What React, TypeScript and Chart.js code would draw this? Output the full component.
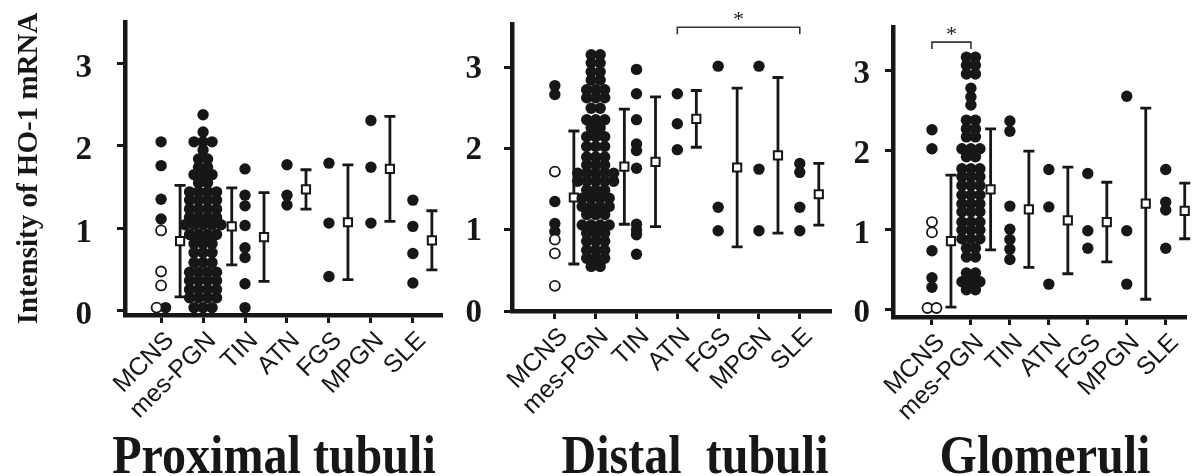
import React, { useEffect, useRef } from "react";
import { Chart, registerables } from "chart.js";

Chart.register(...registerables);

const INK = "#171717";
const SERIF = '"Liberation Serif", "DejaVu Serif", serif';
const SANS = '"Liberation Sans", Arial, sans-serif';

const categories = ["MCNS", "mes-PGN", "TIN", "ATN", "FGS", "MPGN", "SLE"];
const yTickValues = [0, 1, 2, 3];
const yAxisTitle = "Intensity of HO-1 mRNA";

// ---------- Proximal tubuli ----------
const proxMCNS = [2.05, 1.76, 1.35, 1.11, 0.03];
const proxMCNSOpen = [0.97, 0.47, 0.3, 0.03];
const proxMesPGN = [
  2.38, 2.17, 2.05, 2.05, 2.05, 1.95, 1.84, 1.84, 1.74, 1.74, 1.65, 1.65, 1.65,
  1.55, 1.55, 1.44, 1.44, 1.44, 1.44, 1.34, 1.34, 1.34, 1.34, 1.23, 1.23, 1.23,
  1.23, 1.13, 1.13, 1.13, 1.13, 1.04, 1.04, 1.04, 1.04, 1.04, 0.92, 0.92, 0.92,
  0.92, 0.81, 0.81, 0.81, 0.7, 0.7, 0.7, 0.58, 0.58, 0.58, 0.46, 0.46, 0.46,
  0.46, 0.36, 0.36, 0.36, 0.36, 0.25, 0.25, 0.25, 0.25, 0.15, 0.15, 0.15, 0.15,
  0.03, 0.03, 0.03,
];
const proxTIN = [1.72, 1.4, 1.27, 1.03, 0.76, 0.64, 0.32, 0.03];
const proxATN = [1.77, 1.4, 1.28];
const proxFGS = [1.79, 1.06, 0.41];
const proxMPGN = [2.31, 1.74, 1.06];
const proxSLE = [1.34, 1.02, 0.69, 0.33];
const proxMean = [0.84, 1.02, 0.89, 1.47, 1.07, 1.72, 0.85];
const proxSD = [0.68, 0.47, 0.54, 0.24, 0.7, 0.64, 0.36];

// ---------- Distal tubuli ----------
const distMCNS = [2.78, 2.67, 1.35, 1.08, 0.98];
const distMCNSOpen = [1.72, 0.88, 0.71, 0.31];
const distMesPGN = [
  3.16, 3.16, 3.06, 3.06, 2.95, 2.95, 2.85, 2.85, 2.73, 2.73, 2.73, 2.63, 2.63,
  2.63, 2.5, 2.5, 2.36, 2.36, 2.36, 2.26, 2.26, 2.15, 2.15, 2.15, 2.03, 2.03,
  2.03, 1.9, 1.9, 1.9, 1.8, 1.8, 1.8, 1.7, 1.7, 1.7, 1.7, 1.7, 1.6, 1.6, 1.6,
  1.6, 1.6, 1.49, 1.49, 1.49, 1.39, 1.39, 1.39, 1.39, 1.29, 1.29, 1.29, 1.29,
  1.19, 1.19, 1.19, 1.06, 1.06, 1.06, 1.06, 0.96, 0.96, 0.96, 0.86, 0.86, 0.86,
  0.75, 0.75, 0.75, 0.65, 0.65, 0.65, 0.55, 0.55,
];
const distTIN = [2.98, 2.68, 2.36, 2.06, 1.98, 1.76, 1.07, 1.0, 0.94, 0.7];
const distATN = [2.68, 2.31, 1.99];
const distFGS = [3.02, 1.28, 0.99];
const distMPGN = [3.02, 1.75, 0.99];
const distSLE = [1.82, 1.71, 1.28, 0.99];
const distMean = [1.4, 1.78, 1.84, 2.37, 1.77, 1.92, 1.44];
const distSD = [0.82, 0.71, 0.8, 0.35, 0.98, 0.96, 0.38];

// ---------- Glomeruli ----------
const glomMCNS = [2.26, 2.02, 0.74, 0.4, 0.28];
const glomMCNSOpen = [1.1, 0.97, 0.02, 0.02];
const glomMesPGN = [
  3.17, 3.17, 3.07, 3.07, 2.96, 2.96, 2.78, 2.67, 2.57, 2.38, 2.38, 2.27, 2.27,
  2.17, 2.17, 2.02, 2.02, 2.02, 1.92, 1.92, 1.77, 1.77, 1.77, 1.67, 1.67, 1.67,
  1.56, 1.56, 1.56, 1.44, 1.44, 1.44, 1.33, 1.33, 1.33, 1.23, 1.23, 1.23, 1.1,
  1.1, 1.1, 1.0, 1.0, 1.0, 0.89, 0.89, 0.89, 0.77, 0.77, 0.66, 0.66, 0.46, 0.46,
  0.35, 0.35, 0.35, 0.25, 0.25,
];
const glomTIN = [2.37, 2.24, 1.3, 1.01, 0.88, 0.76, 0.63];
const glomATN = [1.76, 1.29, 0.32];
const glomFGS = [1.71, 0.99, 0.77];
const glomMPGN = [2.68, 0.99, 0.32];
const glomSLE = [1.76, 1.35, 1.25, 0.77];
const glomMean = [0.86, 1.51, 1.26, 1.12, 1.1, 1.33, 1.24];
const glomSD = [0.83, 0.76, 0.73, 0.67, 0.5, 1.2, 0.35];

// significance brackets: [from category, to category, level]
const distSig = [[3, 6, 3.5]];
const glomSig = [[0, 1, 3.36]];

const DOT_R = 5.7;
const SPACING = 9;

type PanelCfg = {
  title: string;
  filled: number[][];
  open: number[][];
  mean: number[];
  sd: number[];
  sig: number[][];
  left: number;
  width: number;
  yAxisWidth: number;
  padTop: number;
  padRight: number;
  xAxisHeight: number;
  xMin: number;
  xMax: number;
  yMin: number;
  yMax: number;
  yTickPad: number;
  yLabelOffset: number;
  titleX: number;
  showYTitle: boolean;
};

const panels: PanelCfg[] = [
  {
    title: "Proximal tubuli",
    filled: [proxMCNS, proxMesPGN, proxTIN, proxATN, proxFGS, proxMPGN, proxSLE],
    open: [proxMCNSOpen, [], [], [], [], [], []],
    mean: proxMean,
    sd: proxSD,
    sig: [],
    left: 0,
    width: 455,
    yAxisWidth: 125,
    padTop: 22,
    padRight: 14,
    xAxisHeight: 161,
    xMin: -0.86,
    xMax: 6.67,
    yMin: -0.06,
    yMax: 3.51,
    yTickPad: 25,
    yLabelOffset: 5,
    titleX: 274,
    showYTitle: true,
  },
  {
    title: "Distal  tubuli",
    filled: [distMCNS, distMesPGN, distTIN, distATN, distFGS, distMPGN, distSLE],
    open: [distMCNSOpen, [], [], [], [], [], []],
    mean: distMean,
    sd: distSD,
    sig: distSig,
    left: 455,
    width: 385,
    yAxisWidth: 57,
    padTop: 24,
    padRight: 10,
    xAxisHeight: 165,
    xMin: -1.05,
    xMax: 6.74,
    yMin: 0,
    yMax: 3.54,
    yTickPad: 22,
    yLabelOffset: 2,
    titleX: 240,
    showYTitle: false,
  },
  {
    title: "Glomeruli",
    filled: [glomMCNS, glomMesPGN, glomTIN, glomATN, glomFGS, glomMPGN, glomSLE],
    open: [glomMCNSOpen, [], [], [], [], [], []],
    mean: glomMean,
    sd: glomSD,
    sig: glomSig,
    left: 840,
    width: 353,
    yAxisWidth: 53,
    padTop: 27,
    padRight: 0,
    xAxisHeight: 159,
    xMin: -1.0,
    xMax: 6.5,
    yMin: -0.093,
    yMax: 3.55,
    yTickPad: 15,
    yLabelOffset: 4,
    titleX: 205,
    showYTitle: false,
  },
];

const swarmPlugin = {
  id: "swarm",
  afterDatasetsUpdate(chart: any) {
    const groups = new Map<string, any[]>();
    const halfWidths = new Map<number, number>();
    chart.data.datasets.forEach((ds: any, di: number) => {
      if (!ds.swarm) return;
      const meta = chart.getDatasetMeta(di);
      meta.data.forEach((el: any, j: number) => {
        const p = ds.data[j];
        const key = p.x + "|" + p.y;
        if (!groups.has(key)) groups.set(key, []);
        groups.get(key)!.push(el);
      });
    });
    groups.forEach((els, key) => {
      const cat = Number(key.split("|")[0]);
      const n = els.length;
      els.forEach((el, k) => {
        el.x += (k - (n - 1) / 2) * SPACING;
      });
      const half = ((n - 1) / 2) * SPACING + DOT_R;
      halfWidths.set(cat, Math.max(halfWidths.get(cat) || 0, half));
    });
    chart.data.datasets.forEach((ds: any, di: number) => {
      if (!ds.errorbar) return;
      const meta = chart.getDatasetMeta(di);
      meta.data.forEach((el: any, j: number) => {
        const cat = ds.data[j].x;
        el.x += Math.max(19, (halfWidths.get(cat) || 0) + 5);
      });
    });
  },
  beforeDatasetDraw(chart: any, args: any) {
    const ds = chart.data.datasets[args.index];
    if (!ds.errorbar) return;
    const ys = chart.scales.y;
    const ctx = chart.ctx;
    ctx.save();
    ctx.strokeStyle = INK;
    ctx.lineWidth = 2.8;
    args.meta.data.forEach((el: any, j: number) => {
      const m = ds.data[j].y;
      const s = ds.sd[j];
      const top = ys.getPixelForValue(m + s);
      const bot = ys.getPixelForValue(m - s);
      ctx.beginPath();
      ctx.moveTo(el.x, top);
      ctx.lineTo(el.x, bot);
      ctx.moveTo(el.x - 5.5, top);
      ctx.lineTo(el.x + 5.5, top);
      ctx.moveTo(el.x - 5.5, bot);
      ctx.lineTo(el.x + 5.5, bot);
      ctx.stroke();
    });
    ctx.restore();
  },
  afterDraw(chart: any) {
    const cfg: PanelCfg = chart.options.plugins.swarm.cfg;
    const ctx = chart.ctx;
    const xs = chart.scales.x;
    const ys = chart.scales.y;
    ctx.save();
    // significance brackets
    ctx.strokeStyle = "#333";
    ctx.fillStyle = "#222";
    ctx.lineWidth = 1.6;
    cfg.sig.forEach(([a, b, level]) => {
      const x1 = xs.getPixelForValue(a);
      const x2 = xs.getPixelForValue(b);
      const y = ys.getPixelForValue(level);
      ctx.beginPath();
      ctx.moveTo(x1, y + 7);
      ctx.lineTo(x1, y);
      ctx.lineTo(x2, y);
      ctx.lineTo(x2, y + 7);
      ctx.stroke();
      ctx.font = `22px ${SERIF}`;
      ctx.textAlign = "center";
      ctx.textBaseline = "middle";
      ctx.fillText("*", (x1 + x2) / 2, y - 7);
    });
    // panel title (condensed bold serif)
    ctx.fillStyle = INK;
    ctx.font = `bold 54px ${SERIF}`;
    ctx.textAlign = "center";
    ctx.textBaseline = "alphabetic";
    ctx.translate(cfg.titleX, 473);
    ctx.scale(0.89, 1);
    ctx.fillText(cfg.title, 0, 0);
    ctx.restore();
  },
};

function Panel({ cfg }: { cfg: PanelCfg }) {
  const ref = useRef<HTMLCanvasElement | null>(null);
  useEffect(() => {
    if (!ref.current) return;
    const openPts = cfg.open.flatMap((vals, i) => vals.map((v) => ({ x: i, y: v })));
    const filledPts = cfg.filled.flatMap((vals, i) => vals.map((v) => ({ x: i, y: v })));
    const meanPts = cfg.mean.map((m, i) => ({ x: i, y: m }));
    const chart = new Chart(ref.current, {
      type: "scatter",
      data: {
        datasets: [
          {
            data: openPts,
            swarm: true,
            pointRadius: 5,
            pointBackgroundColor: "#ffffff",
            pointBorderColor: INK,
            pointBorderWidth: 1.8,
            clip: false,
          } as any,
          {
            data: filledPts,
            swarm: true,
            pointRadius: DOT_R,
            pointBackgroundColor: INK,
            pointBorderColor: INK,
            pointBorderWidth: 0,
            clip: false,
          } as any,
          {
            data: meanPts,
            errorbar: true,
            sd: cfg.sd,
            pointStyle: "rect",
            pointRadius: 5.8,
            pointBackgroundColor: "#ffffff",
            pointBorderColor: INK,
            pointBorderWidth: 2,
            clip: false,
          } as any,
        ],
      },
      options: {
        responsive: false,
        animation: false,
        devicePixelRatio: 1,
        events: [],
        layout: { padding: { left: 0, top: cfg.padTop, right: cfg.padRight, bottom: 0 } },
        plugins: {
          legend: { display: false },
          tooltip: { enabled: false },
          swarm: { cfg },
        } as any,
        scales: {
          x: {
            type: "linear",
            min: cfg.xMin,
            max: cfg.xMax,
            afterBuildTicks: (scale: any) => {
              scale.ticks = categories.map((_, i) => ({ value: i }));
            },
            afterFit: (scale: any) => {
              scale.height = cfg.xAxisHeight;
              scale.paddingLeft = 0;
              scale.paddingRight = 0;
            },
            border: { display: true, width: 4.5, color: INK },
            grid: {
              display: true,
              drawOnChartArea: false,
              drawTicks: true,
              tickLength: 8,
              lineWidth: 3,
              color: INK,
            },
            ticks: {
              autoSkip: false,
              maxRotation: 45,
              minRotation: 45,
              padding: 3,
              labelOffset: 9,
              color: INK,
              font: { family: SANS, size: 25 },
              callback: (v: any) => categories[Math.round(Number(v))] ?? "",
            },
          },
          y: {
            type: "linear",
            min: cfg.yMin,
            max: cfg.yMax,
            afterBuildTicks: (scale: any) => {
              scale.ticks = yTickValues.map((v) => ({ value: v }));
            },
            afterFit: (scale: any) => {
              scale.width = cfg.yAxisWidth;
              scale.paddingTop = 0;
              scale.paddingBottom = 0;
            },
            border: { display: true, width: 4.5, color: INK },
            grid: {
              display: true,
              drawOnChartArea: false,
              drawTicks: true,
              tickLength: 8,
              lineWidth: 3,
              color: INK,
            },
            title: {
              display: cfg.showYTitle,
              text: yAxisTitle,
              color: INK,
              font: { family: SERIF, size: 29, weight: "bold" },
              padding: { top: 12, bottom: 0 },
            },
            ticks: {
              padding: cfg.yTickPad,
              labelOffset: cfg.yLabelOffset,
              color: INK,
              font: { family: SERIF, size: 33, weight: "bold" },
              callback: (v: any) => String(v),
            },
          },
        },
      } as any,
      plugins: [swarmPlugin as any],
    });
    return () => chart.destroy();
  }, [cfg]);
  return (
    <canvas
      ref={ref}
      width={cfg.width}
      height={476}
      style={{ position: "absolute", left: cfg.left, top: 0, width: cfg.width, height: 476 }}
    />
  );
}

export default function App() {
  return (
    <div
      style={{
        position: "absolute",
        left: 0,
        top: 0,
        width: 1193,
        height: 476,
        background: "#ffffff",
        overflow: "hidden",
      }}
    >
      {panels.map((p, i) => (
        <Panel key={i} cfg={p} />
      ))}
    </div>
  );
}
